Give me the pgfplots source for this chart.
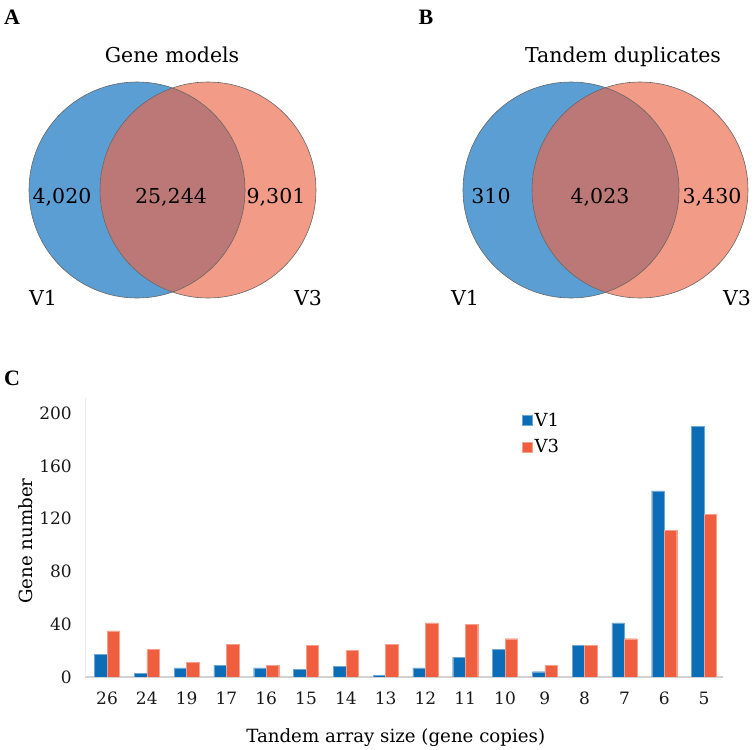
\documentclass[border=0pt]{standalone}
\usepackage{fontspec}
\setmainfont{DejaVu Serif}
\newfontfamily\letterfont{Liberation Serif}
\usepackage{pgfplots}
\pgfplotsset{compat=1.18}
\definecolor{vblue}{RGB}{91,158,211}
\definecolor{vsalmon}{RGB}{242,155,134}
\definecolor{voverlap}{RGB}{187,120,118}
\definecolor{bblue}{RGB}{11,108,184}
\definecolor{borange}{RGB}{239,95,63}
\begin{document}
\begin{tikzpicture}
\path[use as bounding box] (0,0) rectangle (756bp,750bp);
% Venn diagrams in image pixel coordinates
\begin{axis}[at={(0,0)}, anchor=south west, width=756bp, height=750bp, scale only axis,
  xmin=0, xmax=756, ymin=0, ymax=750, y dir=reverse, hide axis, clip=false]
  % A
  \fill[vblue] (axis cs:137,190) circle[radius=108];
  \fill[vsalmon] (axis cs:208,190) circle[radius=108];
  \begin{scope}
    \clip (axis cs:137,190) circle[radius=108];
    \fill[voverlap] (axis cs:208,190) circle[radius=108];
  \end{scope}
  \draw[black!60, line width=0.6bp] (axis cs:137,190) circle[radius=108];
  \draw[black!60, line width=0.6bp] (axis cs:208,190) circle[radius=108];
  % B
  \fill[vblue] (axis cs:571,190) circle[radius=108];
  \fill[vsalmon] (axis cs:640,190) circle[radius=108];
  \begin{scope}
    \clip (axis cs:571,190) circle[radius=108];
    \fill[voverlap] (axis cs:640,190) circle[radius=108];
  \end{scope}
  \draw[black!60, line width=0.6bp] (axis cs:571,190) circle[radius=108];
  \draw[black!60, line width=0.6bp] (axis cs:640,190) circle[radius=108];
  % texts
  \begin{scope}[every node/.style={font=\fontsize{20.5bp}{24bp}\selectfont, anchor=base, inner sep=0pt}]
    \node at (axis cs:172,62) {Gene models};
    \node at (axis cs:62,203) {4,020};
    \node at (axis cs:171,203) {25,244};
    \node at (axis cs:276,203) {9,301};
    \node at (axis cs:43,305) {V1};
    \node at (axis cs:308,305) {V3};
    \node at (axis cs:623,62) {Tandem duplicates};
    \node at (axis cs:491,203) {310};
    \node at (axis cs:600,203) {4,023};
    \node at (axis cs:712,203) {3,430};
    \node at (axis cs:465,305) {V1};
    \node at (axis cs:737,305) {V3};
  \end{scope}
  \begin{scope}[every node/.style={font=\letterfont\bfseries\fontsize{22bp}{26bp}\selectfont, anchor=base, inner sep=0pt}]
    \node at (axis cs:12,24) {A};
    \node at (axis cs:426,24) {B};
    \node at (axis cs:12,385) {C};
  \end{scope}
\end{axis}
% Bar chart
\begin{axis}[at={(85bp,73bp)}, anchor=south west, width=638bp, height=279bp, scale only axis,
  ybar=0pt, bar width=12.5bp,
  xmin=-0.553, xmax=15.477, ymin=0, ymax=211.4,
  xtick={0,...,15},
  xticklabels={26,24,19,17,16,15,14,13,12,11,10,9,8,7,6,5},
  ytick={0,40,80,120,160,200},
  axis x line*=bottom, axis y line*=left,
  x axis line style={draw=black!18, line width=1.2bp},
  y axis line style={draw=black!8, line width=0.8bp},
  major tick length=0pt,
  /pgf/number format/assume math mode=true,
  tick label style={font=\fontsize{17bp}{20bp}\selectfont, text=black!90},
  yticklabel style={anchor=east, inner sep=0pt, xshift=-13bp},
  xticklabel style={anchor=base, inner sep=0pt, yshift=-28bp},
  xlabel={Tandem array size (gene copies)},
  ylabel={Gene number},
  label style={font=\fontsize{18.2bp}{22bp}\selectfont},
  xlabel style={at={(rel axis cs:0.487,0)}, anchor=base, inner sep=0pt, yshift=-65bp},
  ylabel style={at={(rel axis cs:0,0.487)}, anchor=base, inner sep=0pt, yshift=52bp},
  legend style={draw=none, fill=none, at={(rel axis cs:0.685,0.955)}, anchor=north west,
    inner sep=0pt, font=\fontsize{18bp}{22bp}\selectfont, /tikz/row sep=8bp},
  legend cell align=left,
  legend image code/.code={\fill[#1] (0bp,-5bp) rectangle (10bp,5bp);},
]
\addplot[fill=bblue, draw=bblue!60!white, line width=0.4bp] coordinates {
(0,17) (1,3) (2,7) (3,9) (4,7) (5,6) (6,8) (7,1) (8,7) (9,15) (10,21) (11,4) (12,24) (13,41) (14,141) (15,190)};
\addplot[fill=borange, draw=borange!60!white, line width=0.4bp] coordinates {
(0,35) (1,21) (2,11) (3,25) (4,9) (5,24) (6,20) (7,25) (8,41) (9,40) (10,29) (11,9) (12,24) (13,29) (14,111) (15,123)};
\legend{V1,V3}
\end{axis}
\end{tikzpicture}
\end{document}
